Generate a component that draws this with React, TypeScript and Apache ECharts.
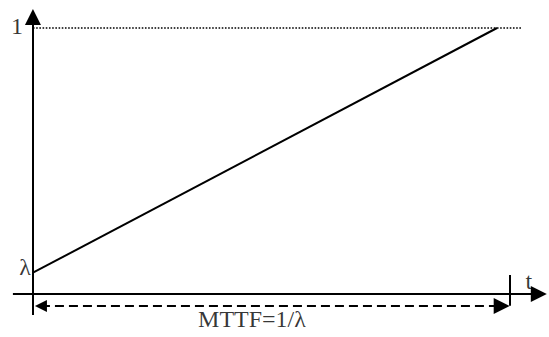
import React, { useEffect, useRef } from "react";
import * as echarts from "echarts";

// Failure-rate sketch: linear rise from λ to 1, with MTTF span marked below the time axis.
const lambda = 0.08;
const rampEnd = 12.5; // time at which the curve reaches 1
const unitLevel = 1;
const mttfMark = 12.84; // tick on the time axis closing the MTTF span
const dottedEnd = 13.15;
const xAxisSpan = [-0.54, 13.84];
const yAxisSpan = [-0.079, 1.071];
const tickSpan = [0.071, -0.044];
const spanLevel = -0.045;
const axisLabels = ["1", "λ", "t", "MTTF=1/λ"];

const FONT = "'Liberation Serif', 'Times New Roman', serif";

// Arrow heads are centred on a line's end point, so the end is pulled back
// by half a head so that the tip lands on the nominal end.
const HEAD_LEN = 16;
const HEAD_W = 12;
const PX_PER_T = 37.2;
const PX_PER_Y = 266;
const backX = HEAD_LEN / 2 / PX_PER_T;
const backY = HEAD_LEN / 2 / PX_PER_Y;

export default function App() {
  const ref = useRef<HTMLDivElement>(null);

  useEffect(() => {
    if (!ref.current) return;
    const chart = echarts.init(ref.current, null, { renderer: "svg" });

    const labelBase = {
      show: true,
      color: "#000",
      fontFamily: FONT,
      fontSize: 24,
    };

    chart.setOption({
      animation: false,
      backgroundColor: "#fff",
      grid: { left: 10.68, top: 1.4, width: 539.4, height: 319.2 },
      xAxis: { type: "value", min: -0.6, max: 13.9, show: false },
      yAxis: { type: "value", min: -0.1, max: 1.1, show: false },
      series: [
        {
          // dotted reference level at 1
          type: "line",
          symbol: "none",
          data: [
            [0, unitLevel],
            [dottedEnd, unitLevel],
          ],
          lineStyle: { color: "#000", width: 1.6, type: [1.6, 1.6] },
          z: 1,
        },
        {
          // linear rise from λ to 1
          type: "line",
          symbol: "none",
          data: [
            [0, lambda],
            [rampEnd, unitLevel],
          ],
          lineStyle: { color: "#000", width: 2 },
          z: 3,
        },
        {
          // axes with arrow heads
          type: "lines",
          coordinateSystem: "cartesian2d",
          symbol: ["none", "triangle"],
          symbolSize: [HEAD_W, HEAD_LEN],
          lineStyle: { color: "#000", width: 2, opacity: 1 },
          data: [
            { coords: [[0, yAxisSpan[0]], [0, yAxisSpan[1] - backY]] },
            { coords: [[xAxisSpan[0], 0], [xAxisSpan[1] - backX, 0]] },
          ],
          z: 4,
        },
        {
          // tick closing the MTTF span
          type: "lines",
          coordinateSystem: "cartesian2d",
          symbol: ["none", "none"],
          lineStyle: { color: "#000", width: 2, opacity: 1 },
          data: [{ coords: [[mttfMark, tickSpan[0]], [mttfMark, tickSpan[1]]] }],
          z: 4,
        },
        {
          // dashed double arrow for MTTF
          type: "lines",
          coordinateSystem: "cartesian2d",
          symbol: ["triangle", "triangle"],
          symbolSize: [HEAD_W, HEAD_LEN],
          lineStyle: { color: "#000", width: 2, type: [9, 5], opacity: 1 },
          data: [{ coords: [[0 + backX, spanLevel], [mttfMark - backX, spanLevel]] }],
          z: 4,
        },
        {
          // text labels
          type: "scatter",
          symbolSize: 0,
          silent: true,
          z: 5,
          data: [
            {
              value: [0, unitLevel],
              name: axisLabels[0],
              label: { ...labelBase, position: "left", distance: 10, offset: [0, -2] },
            },
            {
              value: [0, lambda],
              name: axisLabels[1],
              label: { ...labelBase, position: "left", distance: 2, offset: [0, -6] },
            },
            {
              value: [13.36, 0],
              name: axisLabels[2],
              label: { ...labelBase, position: "top", distance: 1 },
            },
            {
              value: [5.9, spanLevel],
              name: axisLabels[3],
              label: { ...labelBase, position: "bottom", distance: 1 },
            },
          ],
          label: { formatter: "{b}" },
        },
      ],
    });

    return () => chart.dispose();
  }, []);

  return (
    <div
      ref={ref}
      style={{ position: "absolute", left: 0, top: 0, width: 549, height: 337 }}
    />
  );
}
